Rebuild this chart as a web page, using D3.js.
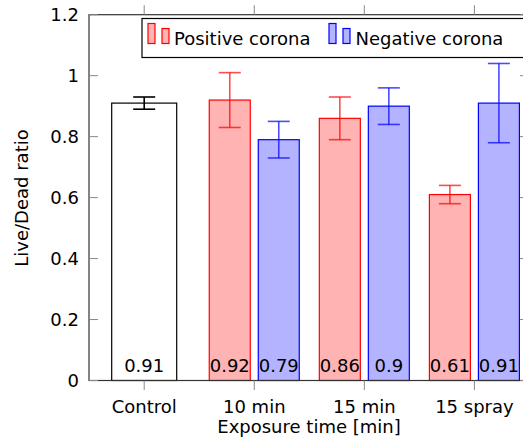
<!DOCTYPE html>
<html><head><meta charset="utf-8">
<script src="https://cdn.jsdelivr.net/npm/d3@7"></script>
<style>body{margin:0;background:#fff}svg{display:block}text{font-family:"DejaVu Sans",sans-serif;fill:#000}</style>
</head><body><svg id="c" width="523" height="448"></svg>
<script>
const categories = ["Control", "10 min", "15 min", "15 spray"];
const controlValue = 0.91, controlErr = 0.02;
const positiveCats = ["10 min", "15 min", "15 spray"];
const positiveValues = [0.92, 0.86, 0.61];
const positiveErr = [0.09, 0.07, 0.03];
const negativeValues = [0.79, 0.90, 0.91];
const negativeErr = [0.06, 0.06, 0.13];
const yTicks = [0, 0.2, 0.4, 0.6, 0.8, 1, 1.2];
const seriesNames = ["Positive corona", "Negative corona"];

const svg = d3.select("#c");
const L = 89, R = 524, T = 14.7, B = 380.5;
const yS = d3.scaleLinear().domain([0, 1.2]).range([B, T]);
const xS = d3.scalePoint().domain(categories).range([144.2, 474.4]);
const fs = 18;

function bar(cx, w, v, fill, stroke) {
  svg.append("rect").attr("x", cx - w/2).attr("y", yS(v)).attr("width", w).attr("height", yS(0) - yS(v))
    .attr("fill", fill).attr("stroke", stroke).attr("stroke-width", 1.2);
}
function err(cx, v, e, color, op) {
  const g = svg.append("g").attr("stroke", color).attr("stroke-opacity", op).attr("stroke-width", 1.6);
  g.append("line").attr("x1", cx).attr("x2", cx).attr("y1", yS(v - e)).attr("y2", yS(v + e));
  [v - e, v + e].forEach(t => g.append("line").attr("x1", cx - 11).attr("x2", cx + 11).attr("y1", yS(t)).attr("y2", yS(t)));
}
function vlabel(cx, v) {
  svg.append("text").attr("x", cx).attr("y", 372).attr("text-anchor", "middle").attr("font-size", fs).text(String(v));
}
const off = 24.5, bw = 41;
bar(xS("Control"), 65, controlValue, "#fff", "#000");
positiveCats.forEach((c, i) => {
  bar(xS(c) - off, bw, positiveValues[i], "#ffb3b3", "#ff0000");
  bar(xS(c) + off, bw, negativeValues[i], "#b3b3ff", "#0000ff");
});
err(xS("Control"), controlValue, controlErr, "#000", 1);
vlabel(xS("Control"), controlValue);
positiveCats.forEach((c, i) => {
  err(xS(c) - off, positiveValues[i], positiveErr[i], "#ff0000", 0.7);
  err(xS(c) + off, negativeValues[i], negativeErr[i], "#0000ff", 0.7);
  vlabel(xS(c) - off, positiveValues[i]);
  vlabel(xS(c) + off, negativeValues[i]);
});

svg.append("rect").attr("x", L).attr("y", T).attr("width", R - L).attr("height", B - T)
  .attr("fill", "none").attr("stroke", "#333").attr("stroke-width", 1.2);
yTicks.forEach(t => {
  svg.append("line").attr("x1", L).attr("x2", L + 9).attr("y1", yS(t)).attr("y2", yS(t)).attr("stroke", "#888");
  svg.append("line").attr("x1", R - 4).attr("x2", R).attr("y1", yS(t)).attr("y2", yS(t)).attr("stroke", "#888");
  svg.append("text").attr("x", 79).attr("y", yS(t)).attr("dy", "0.36em").attr("text-anchor", "end")
    .attr("font-size", fs).text(d3.format("")(t));
});
categories.forEach(c => {
  svg.append("line").attr("x1", xS(c)).attr("x2", xS(c)).attr("y1", B).attr("y2", B + 9.5).attr("stroke", "#888");
  svg.append("line").attr("x1", xS(c)).attr("x2", xS(c)).attr("y1", T).attr("y2", T - 9.5).attr("stroke", "#888");
  svg.append("text").attr("x", xS(c)).attr("y", 413).attr("text-anchor", "middle").attr("font-size", fs).text(c);
});
svg.append("text").attr("x", 309).attr("y", 433).attr("text-anchor", "middle").attr("font-size", fs).text("Exposure time [min]");
svg.append("text").attr("transform", "translate(28,198) rotate(-90)").attr("text-anchor", "middle").attr("font-size", fs).text("Live/Dead ratio");

svg.append("rect").attr("x", 142).attr("y", 18.5).attr("width", 400).attr("height", 39)
  .attr("fill", "#fff").attr("stroke", "#000").attr("stroke-width", 1.2);
const legItems = [
  {x: 148, fill: "#ffb3b3", stroke: "#ff0000", tx: 174},
  {x: 329, fill: "#b3b3ff", stroke: "#0000ff", tx: 355.5}
];
legItems.forEach((d, i) => {
  svg.append("rect").attr("x", d.x).attr("y", 23.5).attr("width", 7).attr("height", 20).attr("fill", d.fill).attr("stroke", d.stroke).attr("stroke-width", 1.2);
  svg.append("rect").attr("x", d.x + 14).attr("y", 28.5).attr("width", 7).attr("height", 15).attr("fill", d.fill).attr("stroke", d.stroke).attr("stroke-width", 1.2);
  svg.append("text").attr("x", d.tx).attr("y", 45).attr("font-size", fs).text(seriesNames[i]);
});
</script></body></html>
